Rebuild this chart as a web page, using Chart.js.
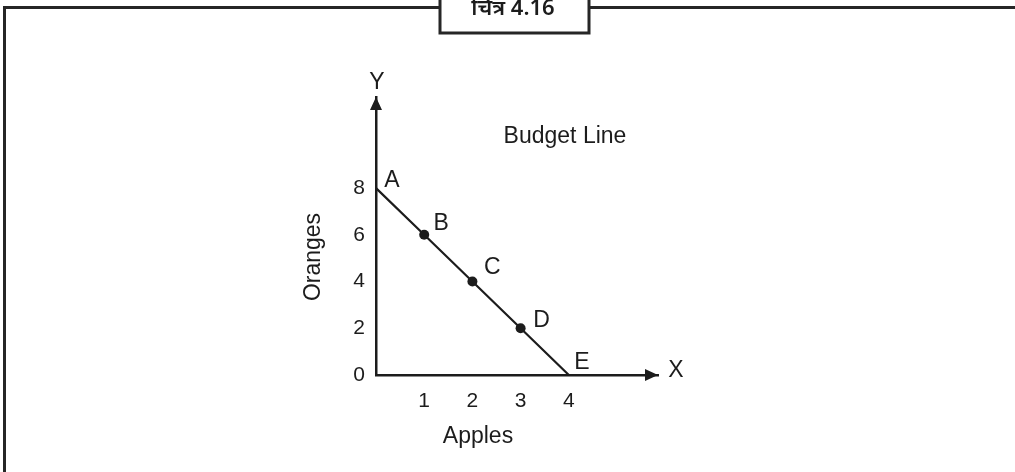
<!DOCTYPE html>
<html><head><meta charset="utf-8">
<style>html,body{margin:0;padding:0;background:#fff;}#wrap{width:1015px;height:472px;}</style>
<script src="https://cdn.jsdelivr.net/npm/chart.js@4/dist/chart.umd.min.js"></script>
</head><body><div id="wrap"><canvas id="c" width="1015" height="472"></canvas></div>
<script>
const apples = [0, 1, 2, 3, 4];
const oranges = [8, 6, 4, 2, 0];
const pointNames = ['A', 'B', 'C', 'D', 'E'];
const xTicks = [1, 2, 3, 4];
const yTicks = [0, 2, 4, 6, 8];
const figureTitle = 'चित्र 4.16';
const lineName = 'Budget Line';
const xTitle = 'Apples';
const yTitle = 'Oranges';
const xAxisName = 'X';
const yAxisName = 'Y';

const FONT = "'Liberation Sans', Arial, Helvetica, sans-serif";
const INK = '#1c1c1c';
const TS = 23;
// label offsets (style only)
const nameOffsets = [[16,-9],[17,-13],[20,-16],[21,-10],[13,-14]];

const decor = {
  id: 'decor',
  afterDraw(chart) {
    const ctx = chart.ctx, a = chart.chartArea;
    const xs = chart.scales.x, ys = chart.scales.y;
    ctx.save();
    // frame
    ctx.strokeStyle = '#262626'; ctx.lineWidth = 3; ctx.lineCap = 'butt';
    ctx.beginPath();
    ctx.moveTo(4.5, 472); ctx.lineTo(4.5, 7.5); ctx.lineTo(440, 7.5);
    ctx.moveTo(440, -2); ctx.lineTo(440, 33); ctx.lineTo(589, 33); ctx.lineTo(589, -2);
    ctx.moveTo(589, 7.5); ctx.lineTo(1015, 7.5);
    ctx.stroke();
    ctx.fillStyle = INK;
    ctx.font = "600 22px 'Noto Sans', 'Noto Sans Devanagari', 'Lohit Devanagari', sans-serif";
    ctx.textAlign = 'center'; ctx.textBaseline = 'alphabetic';
    ctx.fillText(figureTitle, 513, 15);
    // arrows
    ctx.beginPath();
    ctx.moveTo(a.left, a.top); ctx.lineTo(a.left - 6, a.top + 13); ctx.lineTo(a.left + 6, a.top + 13); ctx.closePath();
    ctx.moveTo(a.right, a.bottom); ctx.lineTo(a.right - 13, a.bottom - 6); ctx.lineTo(a.right - 13, a.bottom + 6); ctx.closePath();
    ctx.fill();
    // texts
    const cap = s => 0.358 * s;
    ctx.font = TS + 'px ' + FONT;
    ctx.textAlign = 'center';
    ctx.fillText(yAxisName, a.left + 1, 81 + cap(TS));
    ctx.fillText(xAxisName, a.right + 18, a.bottom - 6 + cap(TS));
    ctx.fillText(lineName, 565, 135 + cap(TS));
    ctx.fillText(xTitle, 478, 435 + cap(TS));
    pointNames.forEach((n, i) => {
      const px = xs.getPixelForValue(apples[i]), py = ys.getPixelForValue(oranges[i]);
      ctx.fillText(n, px + nameOffsets[i][0], py + nameOffsets[i][1] + cap(TS));
    });
    ctx.translate(312 + cap(TS), 257);
    ctx.rotate(-Math.PI / 2);
    ctx.fillText(yTitle, 0, 0);
    ctx.restore();
  }
};

new Chart(document.getElementById('c'), {
  type: 'scatter',
  data: {
    datasets: [{
      label: lineName,
      data: apples.map((x, i) => ({ x, y: oranges[i] })),
      showLine: true,
      borderColor: INK,
      borderWidth: 2.2,
      backgroundColor: INK,
      pointRadius: c => (c.dataIndex === 0 || c.dataIndex === apples.length - 1) ? 0 : 5,
      pointBorderWidth: 0,
      clip: false
    }]
  },
  options: {
    responsive: false,
    animation: false,
    devicePixelRatio: 1,
    layout: { padding: { left: 336, right: 357, top: 97, bottom: 57 } },
    plugins: { legend: { display: false }, tooltip: { enabled: false } },
    scales: {
      x: {
        type: 'linear', min: 0, max: 5.85,
        afterBuildTicks: s => { s.ticks = xTicks.map(v => ({ value: v })); },
        afterFit: s => { s.height = 40; },
        grid: { display: false, drawTicks: false },
        border: { display: true, color: INK, width: 2.5 },
        ticks: { padding: 14, color: INK, font: { size: 21, family: FONT }, maxRotation: 0, autoSkip: false }
      },
      y: {
        type: 'linear', min: 0, max: 11.9,
        afterBuildTicks: s => { s.ticks = yTicks.map(v => ({ value: v })); },
        afterFit: s => { s.width = 40; },
        grid: { display: false, drawTicks: false },
        border: { display: true, color: INK, width: 2.5 },
        ticks: { padding: 11, color: INK, font: { size: 21, family: FONT }, autoSkip: false }
      }
    }
  },
  plugins: [decor]
});
</script></body></html>
